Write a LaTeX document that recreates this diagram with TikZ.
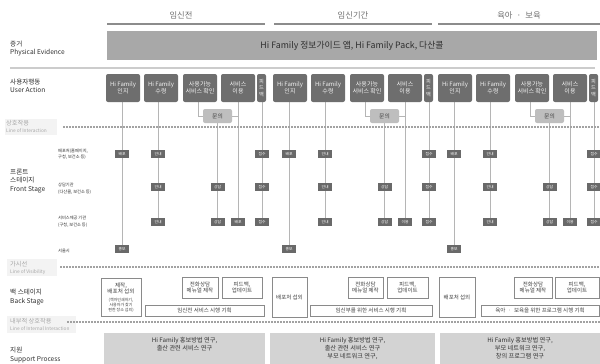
\documentclass[tikz,border=0pt]{standalone}
\usepackage{fontspec}
\setmainfont{Noto Sans CJK KR}
\pgfdeclarelayer{background}
\pgfsetlayers{background,main}
\definecolor{uagray}{HTML}{6E6E6E}
\definecolor{uatext}{HTML}{F2F2F2}
\definecolor{pegray}{HTML}{A8A8A8}
\definecolor{qgray}{HTML}{BEBEBE}
\definecolor{sbgray}{HTML}{696969}
\definecolor{conncol}{HTML}{B5B5B5}
\definecolor{dotcol}{HTML}{A2A2A2}
\definecolor{headtext}{HTML}{707070}
\definecolor{headline}{HTML}{8C8C8C}
\definecolor{labcol}{HTML}{2E2E2E}
\definecolor{linelab}{HTML}{A8A8A8}
\definecolor{linebg}{HTML}{F3F3F3}
\definecolor{bsborder}{HTML}{8A8A8A}
\definecolor{bstext}{HTML}{404040}
\definecolor{supfill}{HTML}{D3D3D3}
\definecolor{suptext}{HTML}{333333}
\definecolor{pelinecol}{HTML}{CCCCCC}
\newcommand\mdt{\kern.5em{}·{}\kern.5em}
\tikzset{
  ua/.style={fill=uagray, rounded corners=2pt, text=uatext, align=center, inner sep=0pt,
    minimum height=28pt, font=\fontsize{6}{7}\selectfont},
  qbox/.style={fill=qgray, rounded corners=2pt, text=bstext, inner sep=0pt,
    minimum width=29pt, minimum height=14pt, font=\fontsize{5.8}{6}\selectfont},
  sb/.style={fill=sbgray, text=white, inner sep=0pt, minimum width=14pt, minimum height=7.5pt,
    font=\fontsize{3.8}{4}\selectfont},
  conn/.style={draw=conncol, line width=0.8pt},
  dotl/.style={draw=dotcol, line width=1.7pt, dash pattern=on 1.7pt off 1.3pt},
  headtxt/.style={text=headtext, font=\fontsize{8.3}{9}\selectfont},
  hline/.style={draw=headline, line width=1.7pt},
  lab/.style={anchor=west, text=labcol, inner sep=0pt, align=left, font=\fontsize{6.6}{8.2}\selectfont},
  rowlab/.style={anchor=west, text=labcol, inner sep=0pt, align=left, font=\fontsize{4.2}{6.4}\selectfont},
  llabk/.style={anchor=west, text=linelab, inner sep=0pt, font=\fontsize{6.2}{7}\selectfont},
  llabe/.style={anchor=west, text=linelab, inner sep=0pt, font=\fontsize{4.8}{5.5}\selectfont},
  bs/.style={draw=bsborder, fill=white, line width=0.7pt, text=bstext, align=center, inner sep=0pt,
    font=\fontsize{5.5}{6.8}\selectfont},
  sup/.style={fill=supfill, inner sep=0pt},
  suptxt/.style={text=suptext, align=center, inner sep=0pt, font=\fontsize{6.2}{7.8}\selectfont},
}
\newcommand\uasec[3]{%
 \node[ua,minimum width=34pt] (#1a) at (#2+17,88) {Hi Family\\인지};
 \node[ua,minimum width=34pt] (#1b) at (#2+55,88) {Hi Family\\수령};
 \node[ua,minimum width=34pt] (#1c) at (#2+94,88) {사용가능\\서비스 확인};
 \node[ua,minimum width=34pt] (#1d) at (#2+132,88) {서비스\\이용};
 \node[ua,minimum width=9pt,font=\fontsize{5.2}{6.6}\selectfont] (#1e) at (#2+155.5,88) {피\\드\\백};
 \node[qbox] (#1q) at (#2+111.5,116) {문의};
 \node[sb] (#1a1) at (#2+16,154) {배포};
 \node[sb] (#1a4) at (#2+16,249) {홍보};
 \node[sb] (#1b1) at (#2+52,154) {안내};
 \node[sb] (#1b2) at (#2+52,187) {안내};
 \node[sb] (#1b3) at (#2+52,222) {안내};
 \node[sb] (#1q2) at (#2+111.5,187) {상담};
 \node[sb] (#1q3) at (#2+111.5,222) {상담};
 \node[sb] (#1d3) at (#2+132,222) {#3};
 \node[sb] (#1e1) at (#2+156,154) {접수};
 \node[sb] (#1e2) at (#2+156,187) {접수};
 \node[sb] (#1e3) at (#2+156,222) {접수};
 \coordinate (#1cx) at (#2+92,102);
 \begin{pgfonlayer}{background}
 \draw[conn] (#1a.south -| #1a1) -- (#1a4);
 \draw[conn] (#1b.south -| #1b1) -- (#1b3);
 \draw[conn] (#1cx) |- (#1q.west);
 \draw[conn] (#1d.south) -- (#1d3);
 \draw[conn] (#1q.east) -- (#1q.east -| #1d3);
 \draw[conn] (#1q.south) -- (#1q3);
 \draw[conn] (#1e.south -| #1e1) -- (#1e3);
 \end{pgfonlayer}}
\begin{document}
\begin{tikzpicture}[x=1pt,y=-1pt]
\begin{pgfonlayer}{background}
\fill[white] (0,0) rectangle (600,364);
\end{pgfonlayer}
\useasboundingbox (0,0) rectangle (600,364);
% phase headers
\node[headtxt] (h1) at (181,15) {임신전};
\node[headtxt] (h2) at (353,15) {임신기간};
\node[headtxt] (h3) at (519,15) {육아\mdt 보육};
\draw[hline] (107,24) -- (265,24);
\draw[hline] (274,24) -- (432,24);
\draw[hline] (438,24) -- (600,24);
% physical evidence
\node[fill=pegray, minimum width=490pt, minimum height=29pt, inner sep=0pt, text=labcol,
  font=\fontsize{8.8}{9}\selectfont] (pe) at (352,45.5) {Hi Family 정보가이드 앱, Hi Family Pack, 다산콜};
\draw[draw=pelinecol, line width=2pt] (10,68) -- (595,68);
% left labels
\node[lab] (l1) at (10,48.5) {증거\\Physical Evidence};
\node[lab] (l2) at (10,86) {사용자행동\\User Action};
\node[lab] (l3) at (10,181) {프론트\\스테이지\\Front Stage};
\node[lab] (l4) at (10,297) {백 스테이지\\Back Stage};
\node[lab] (l5) at (10,355) {지원\\Support Process};
% line labels
\fill[linebg] (5,119) rectangle (57,135);
\fill[linebg] (7,259) rectangle (57,276);
\fill[linebg] (7,316) rectangle (76,333);
\node[llabk] (ll1) at (6,123.5) {상호작용};
\node[llabe] (ll1e) at (6,131) {Line of Interaction};
\node[llabk] (ll2) at (10,264) {가시선};
\node[llabe] (ll2e) at (10,272) {Line of Visibility};
\node[llabk] (ll3) at (10,321) {내부적 상호작용};
\node[llabe] (ll3e) at (10,329) {Line of Internal Interaction};
\draw[dotl] (63,127) -- (600,127);
\draw[dotl] (60,267) -- (600,267);
\draw[dotl] (67,322) -- (600,322);
% row labels
\node[rowlab] (r1) at (58,154) {배포처(홈페이지,\\구청, 보건소 등)};
\node[rowlab] (r2) at (58,188.5) {상담기관\\(다산콜, 보건소 등)};
\node[rowlab] (r3) at (58,221.5) {서비스제공 기관\\(구청, 보건소 등)};
\node[rowlab] (r4) at (58,251) {서울시};
% user action + front stage sections
\uasec{s1}{106}{배포}
\uasec{s2}{273}{이용}
\uasec{s3}{438}{이용}
% back stage section 1
\node[bs, minimum width=40pt, minimum height=38pt] (b1a) at (121,297) {};
\node[text=bstext, align=center, inner sep=0pt, font=\fontsize{5.6}{6.4}\selectfont] (b1at) at (121,288.5) {제작,\\배포처 섭외};
\node[text=bstext, align=center, inner sep=0pt, font=\fontsize{4}{5}\selectfont] (b1as) at (121,305) {(책자인쇄하기,\\사용자가 찾기\\편한 장소 섭외)};
\node[bs, minimum width=36pt, minimum height=21pt] (b1b) at (200,287.5) {전화상담\\메뉴얼 제작};
\node[bs, minimum width=40pt, minimum height=21pt] (b1c) at (242,287.5) {피드백,\\업데이트};
\node[bs, minimum width=119pt, minimum height=11pt] (b1d) at (204.5,310.5) {임신전 서비스 시행 기획};
% back stage section 2
\node[bs, minimum width=35pt, minimum height=40pt] (b2a) at (289.5,297) {배포처 섭외};
\node[bs, minimum width=35pt, minimum height=21pt] (b2b) at (365.5,287.5) {전화상담\\메뉴얼 제작};
\node[bs, minimum width=41pt, minimum height=21pt] (b2c) at (407.5,287.5) {피드백,\\업데이트};
\node[bs, minimum width=122pt, minimum height=11pt] (b2d) at (371,310.5) {임신부를 위한 서비스 시행 기획};
% back stage section 3
\node[bs, minimum width=36pt, minimum height=40pt] (b3a) at (457,297) {배포처 섭외};
\node[bs, minimum width=38pt, minimum height=21pt] (b3b) at (533,287.5) {전화상담\\메뉴얼 제작};
\node[bs, minimum width=44pt, minimum height=21pt] (b3c) at (577,287.5) {피드백,\\업데이트};
\node[bs, minimum width=118pt, minimum height=11pt] (b3d) at (540,310.5) {육아\mdt 보육을 위한 프로그램 시행 기획};
% support process
\node[sup, minimum width=161pt, minimum height=31pt] (sp1) at (184.5,348.5) {};
\node[sup, minimum width=165pt, minimum height=31pt] (sp2) at (352.5,348.5) {};
\node[sup, minimum width=160pt, minimum height=31pt] (sp3) at (520,348.5) {};
\node[suptxt, anchor=north] (sp1t) at (184.5,337.5) {Hi Family 홍보방법 연구,\\출산 관련 서비스 연구};
\node[suptxt, anchor=north] (sp2t) at (352.5,337.5) {Hi Family 홍보방법 연구,\\출산 관련 서비스 연구\\부모 네트워크 연구,};
\node[suptxt, anchor=north] (sp3t) at (520,337.5) {Hi Family 홍보방법 연구,\\부모 네트워크 연구,\\창의 프로그램 연구};
\end{tikzpicture}
\end{document}
